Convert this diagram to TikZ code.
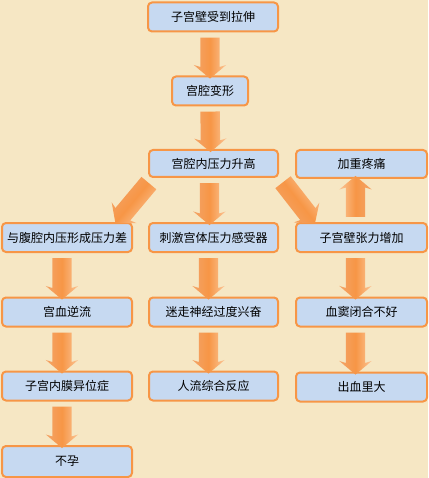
\documentclass[tikz,border=0pt]{standalone}
\usepackage{fontspec}
\newfontfamily\cjk{Noto Sans CJK SC}
\usetikzlibrary{shapes.arrows,calc}
\definecolor{bg}{HTML}{F6E7C4}
\definecolor{boxfill}{HTML}{C6D9F1}
\definecolor{boxline}{HTML}{F79646}
\definecolor{arrlight}{HTML}{FBC596}
\definecolor{arrmid}{HTML}{F79646}
\definecolor{arrdark}{HTML}{F3A468}
\tikzset{
  box/.style={draw=boxline, line width=2pt, fill=boxfill, rounded corners=4pt,
    minimum height=29pt, inner sep=0pt, font=\cjk\fontsize{12}{14}\selectfont},
  barr/.style={single arrow, draw=none, inner sep=0pt, outer sep=0pt,
    single arrow head extend=6.5pt, single arrow head indent=2pt,
    single arrow tip angle=100,
    top color=arrlight, bottom color=arrdark, middle color=arrmid}
}
\newcommand\blockarrow[2]{%
  \path let \p1=(#1), \p2=(#2), \n1={atan2(\y2-\y1,\x2-\x1)},
    \n2={veclen(\x2-\x1,\y2-\y1)} in
    node[barr, minimum height=\n2, rotate=\n1, shading angle=\n1] at ($(\p1)!0.5!(\p2)$) {\rule{0pt}{19pt}};}
\begin{document}
\begin{tikzpicture}[x=1pt,y=-1pt]
\fill[bg] (0,0) rectangle (428,478);
\useasboundingbox (0,0) rectangle (428,478);
% nodes
\node[box, minimum width=130pt] (b1) at (213,17) {子宫壁受到拉伸};
\node[box, minimum width=76pt] (b2) at (210,91) {宫腔变形};
\node[box, minimum width=129pt, minimum height=27pt] (b3) at (213.5,163.5) {宫腔内压力升高};
\node[box, minimum width=131pt, minimum height=28pt] (r1) at (361.5,164) {加重疼痛};
\node[box, minimum width=130pt] (l2) at (67,237.5) {与腹腔内压形成压力差};
\node[box, minimum width=129pt] (m2) at (213.5,237.5) {刺激宫体压力感受器};
\node[box, minimum width=131pt] (r2) at (361.5,237.5) {子宫壁张力增加};
\node[box, minimum width=130pt] (l3) at (67,312) {宫血逆流};
\node[box, minimum width=129pt] (m3) at (213.5,312) {迷走神经过度兴奋};
\node[box, minimum width=131pt] (r3) at (361.5,312) {血窦闭合不好};
\node[box, minimum width=130pt] (l4) at (67,386) {子宫内膜异位症};
\node[box, minimum width=129pt] (m4) at (213.5,386) {人流综合反应};
\node[box, minimum width=131pt] (r4) at (361.5,387) {出血里大};
\node[box, minimum width=130pt, minimum height=31pt] (l5) at (67,461.5) {不孕};
% arrows
\blockarrow{[xshift=-3pt,yshift=-1pt]b1.south}{[xshift=0pt,yshift=1pt]b2.north}
\blockarrow{[yshift=-1pt]b2.south}{[xshift=-3pt,yshift=1pt]b3.north}
\blockarrow{[xshift=-62pt,yshift=-2pt]b3.south}{[xshift=51pt,yshift=2pt]l2.north}
\blockarrow{[xshift=-4pt,yshift=-1pt]b3.south}{[xshift=-4pt,yshift=1pt]m2.north}
\blockarrow{[xshift=67pt,yshift=-1pt]b3.south}{[xshift=-49pt,yshift=2pt]r2.north}
\blockarrow{[xshift=-6pt,yshift=1pt]r2.north}{[xshift=-6pt,yshift=-1pt]r1.south}
\blockarrow{[xshift=-5pt,yshift=-1pt]l2.south}{[xshift=-5pt,yshift=1pt]l3.north}
\blockarrow{[xshift=-5pt,yshift=-1pt]m2.south}{[xshift=-5pt,yshift=1pt]m3.north}
\blockarrow{[xshift=-6pt,yshift=-1pt]r2.south}{[xshift=-6pt,yshift=1pt]r3.north}
\blockarrow{[xshift=-5pt,yshift=-1pt]l3.south}{[xshift=-5pt,yshift=1pt]l4.north}
\blockarrow{[xshift=-5pt,yshift=-1pt]m3.south}{[xshift=-5pt,yshift=1pt]m4.north}
\blockarrow{[xshift=-6pt,yshift=-1pt]r3.south}{[xshift=-6pt,yshift=1pt]r4.north}
\blockarrow{[xshift=-5pt,yshift=-1pt]l4.south}{[xshift=-5pt,yshift=1pt]l5.north}
\end{tikzpicture}
\end{document}
